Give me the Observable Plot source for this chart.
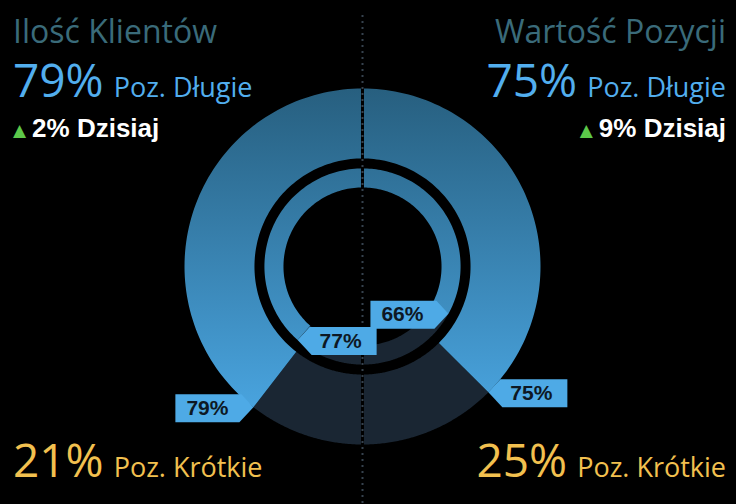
<!DOCTYPE html>
<html><head><meta charset="utf-8">
<script src="https://cdn.jsdelivr.net/npm/d3@7"></script>
<script src="https://cdn.jsdelivr.net/npm/@observablehq/plot@0.6"></script>
<style>
html,body{margin:0;padding:0;background:#000;}
#chart{width:736px;height:504px;background:#000;overflow:hidden;}
</style></head><body><div id="chart"></div>
<script>
// ---- data ----
const panels = ["Ilość Klientów", "Wartość Pozycji"];
const sides = [-1, 1];
const longPct = [79, 75];
const shortPct = [21, 25];
const innerPct = [77, 66];
const todayPct = [2, 9];
const longLabel = "Poz. Długie";
const shortLabel = "Poz. Krótkie";
const todayLabel = "Dzisiaj";

// ---- styling ----
const R_OUT = [0.607, 1];
const R_IN = [0.444, 0.551];
const DARK = "#1a2633";
const TAG = "#4eaae6";

function band(id, side, p0, p1, [r0, r1]) {
  const pts = [], n = 90;
  for (let i = 0; i <= n; i++) { const t = (p0 + (p1 - p0) * i / n) / 100 * Math.PI; pts.push({id, x: side * r1 * Math.sin(t), y: r1 * Math.cos(t)}); }
  for (let i = n; i >= 0; i--) { const t = (p0 + (p1 - p0) * i / n) / 100 * Math.PI; pts.push({id, x: side * r0 * Math.sin(t), y: r0 * Math.cos(t)}); }
  return pts;
}
const blueBands = sides.flatMap((s, i) => [
  ...band("o" + i, s, 0, longPct[i], R_OUT),
  ...band("i" + i, s, 0, innerPct[i], R_IN)
]);
const darkBands = sides.flatMap((s, i) => [
  ...band("od" + i, s, 100 - shortPct[i], 100, R_OUT),
  ...band("id" + i, s, innerPct[i], 100, R_IN)
]);

const tags = sides.flatMap((s, i) => [
  {p: longPct[i], r: R_OUT[1], side: s, label: longPct[i] + "%", body: s < 0 ? "L" : "R"},
  {p: innerPct[i], r: R_IN[1], side: s, label: innerPct[i] + "%", body: s < 0 ? "R" : "L"}
]).map(d => ({...d, x: d.side * d.r * Math.sin(d.p / 100 * Math.PI), y: d.r * Math.cos(d.p / 100 * Math.PI)}));

const tagBodyLeft = {draw(c) { c.moveTo(0, 0); c.lineTo(-12, -13); c.lineTo(-78, -13); c.lineTo(-78, 15); c.lineTo(-14, 15); c.closePath(); }};
const tagBodyRight = {draw(c) { c.moveTo(0, 0); c.lineTo(12, -13); c.lineTo(79, -13); c.lineTo(79, 15); c.lineTo(14, 15); c.closePath(); }};

const tagFont = {fill: "#0d1824", fontWeight: "bold", fontSize: 21, fontFamily: "Liberation Sans, Arial, sans-serif"};

const svg = Plot.plot({
  width: 736, height: 504,
  marginLeft: 0, marginRight: 12, marginTop: 28, marginBottom: 0,
  x: {domain: [-362 / 178, 362 / 178], axis: null},
  y: {domain: [-238 / 178, 238 / 178], axis: null},
  style: {background: "#000"},
  marks: [
    Plot.line(darkBands, {x: "x", y: "y", z: "id", fill: DARK, stroke: "none", curve: "linear-closed"}),
    Plot.line(blueBands, {x: "x", y: "y", z: "id", fill: "url(#ringBlue)", stroke: "none", curve: "linear-closed"}),
    Plot.ruleX([0], {y1: 1.41, y2: -1.34, stroke: "#000", strokeWidth: 3}),
    Plot.ruleX([0], {y1: 1.41, y2: -1.34, stroke: "#36424e", strokeWidth: 2, strokeDasharray: "2,4"}),
    Plot.dot(tags.filter(d => d.body === "L"), {x: "x", y: "y", symbol: tagBodyLeft, fill: TAG, stroke: "none"}),
    Plot.dot(tags.filter(d => d.body === "R"), {x: "x", y: "y", symbol: tagBodyRight, fill: TAG, stroke: "none"}),
    Plot.text(tags.filter(d => d.body === "L"), {x: "x", y: "y", text: "label", dx: -46, dy: 1, ...tagFont}),
    Plot.text(tags.filter(d => d.body === "R"), {x: "x", y: "y", text: "label", dx: 43, dy: 1, ...tagFont})
  ]
});

// gradient for the blue bands
const ys = svg.scale("y");
const defs = d3.select(svg).insert("defs", ":first-child");
const g = defs.append("linearGradient").attr("id", "ringBlue").attr("gradientUnits", "userSpaceOnUse")
  .attr("x1", 0).attr("x2", 0).attr("y1", ys.apply(1)).attr("y2", ys.apply(-0.86));
g.append("stop").attr("offset", 0).attr("stop-color", "#275f7f");
g.append("stop").attr("offset", 1).attr("stop-color", "#4aa6e2");

// corner annotations
const sans = "'Open Sans', 'Noto Sans', sans-serif";
const bold = "'Liberation Sans', Arial, sans-serif";
const ann = d3.select(svg).append("g");
sides.forEach((s, i) => {
  const x = s < 0 ? 13 : 726;
  const anchor = s < 0 ? "start" : "end";
  ann.append("text").attr("x", x).attr("y", 43).attr("text-anchor", anchor)
    .attr("font-family", sans).attr("font-size", 32).attr("fill", "#3a6b7a").text(panels[i]);
  const t2 = ann.append("text").attr("x", x).attr("y", 97).attr("text-anchor", anchor).attr("font-family", sans).attr("fill", "#52aeee");
  t2.append("tspan").attr("font-size", 46).text(longPct[i] + "%");
  t2.append("tspan").attr("font-size", 27).attr("dx", 10).text(longLabel);
  const t3 = ann.append("text").attr("x", x).attr("y", 137).attr("text-anchor", anchor);
  t3.append("tspan").attr("font-family", "DejaVu Sans, sans-serif").attr("font-size", 17).attr("fill", "#5cc84a").attr("dy", -1).text("▲");
  t3.append("tspan").attr("font-family", bold).attr("font-weight", "bold").attr("font-size", 26).attr("fill", "#fff").attr("dx", 6).attr("dy", 1).text(todayPct[i] + "% " + todayLabel);
  const t4 = ann.append("text").attr("x", x).attr("y", 477).attr("text-anchor", anchor).attr("font-family", sans).attr("fill", "#f2c04f");
  t4.append("tspan").attr("font-size", 46).text(shortPct[i] + "%");
  t4.append("tspan").attr("font-size", 27).attr("dx", 10).text(shortLabel);
});

document.getElementById("chart").appendChild(svg);
</script></body></html>
